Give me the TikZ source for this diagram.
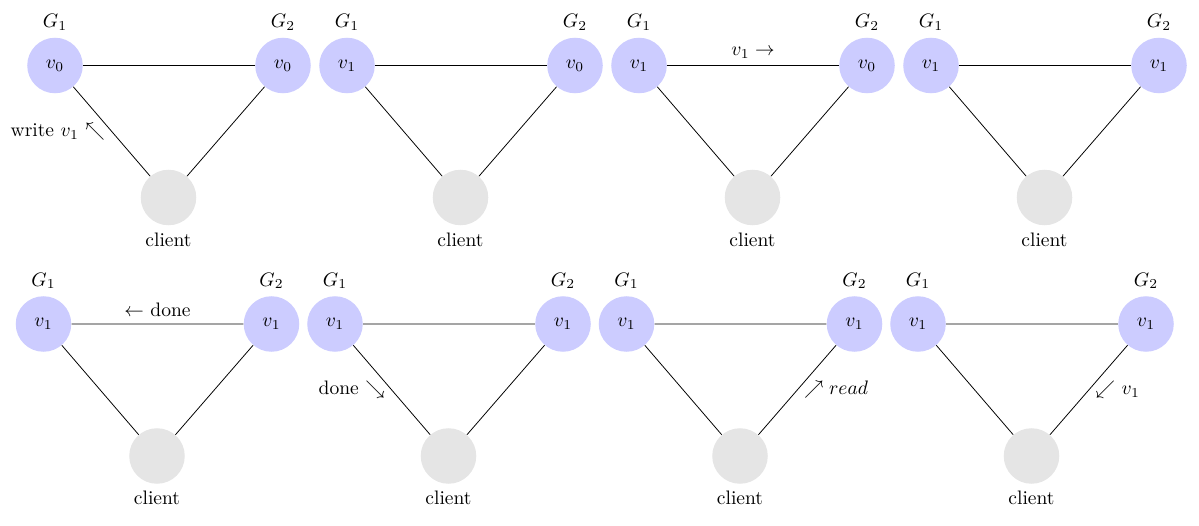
\documentclass[tikz,border=0pt]{standalone}
\usepackage{amssymb}
\tikzset{
  server/.style={circle, fill=blue!20, minimum size=1cm, inner sep=0pt},
  clientnode/.style={circle, fill=black!10, minimum size=1cm, inner sep=0pt}
}
% one panel: name, x, y of G1, value at G1, value at G2
\newcommand{\triad}[5]{%
  \node[server, label=above:$G_1$] (#1-g1) at (#2,#3) {$#4$};
  \node[server, label=above:$G_2$] (#1-g2) at (#2+228,#3) {$#5$};
  \node[clientnode, label=below:client] (#1-c) at (#2+113.5,#3+132) {};
  \draw (#1-g1) -- (#1-g2) (#1-g1) -- (#1-c) (#1-g2) -- (#1-c);
}

\begin{document}
\begin{tikzpicture}[x=0.018cm, y=-0.018cm]
  \useasboundingbox (0,0) rectangle (1199,526);

  \foreach \n/\x/\y/\a/\b in {p1/55/65.5/v_0/v_0, p2/347/65.5/v_1/v_0,
      p3/639/65.5/v_1/v_0, p4/931/65.5/v_1/v_1, p5/43.5/324/v_1/v_1,
      p6/335/324/v_1/v_1, p7/626.5/324/v_1/v_1, p8/918/324/v_1/v_1}
    {\triad{\n}{\x}{\y}{\a}{\b}}

  \path (p1-g1) -- node[left] (p1-msg) {write $v_1$ $\nwarrow$} (p1-c);
  \path (p3-g1) -- node[above] (p3-msg) {$v_1 \rightarrow$} (p3-g2);
  \path (p5-g1) -- node[above] (p5-msg) {$\leftarrow$ done} (p5-g2);
  \path (p6-g1) -- node[left] (p6-msg) {done $\searrow$} (p6-c);
  \path (p7-g2) -- node[right] (p7-msg) {$\nearrow read$} (p7-c);
  \path (p8-g2) -- node[right] (p8-msg) {$\swarrow$ $v_1$} (p8-c);
\end{tikzpicture}
\end{document}
